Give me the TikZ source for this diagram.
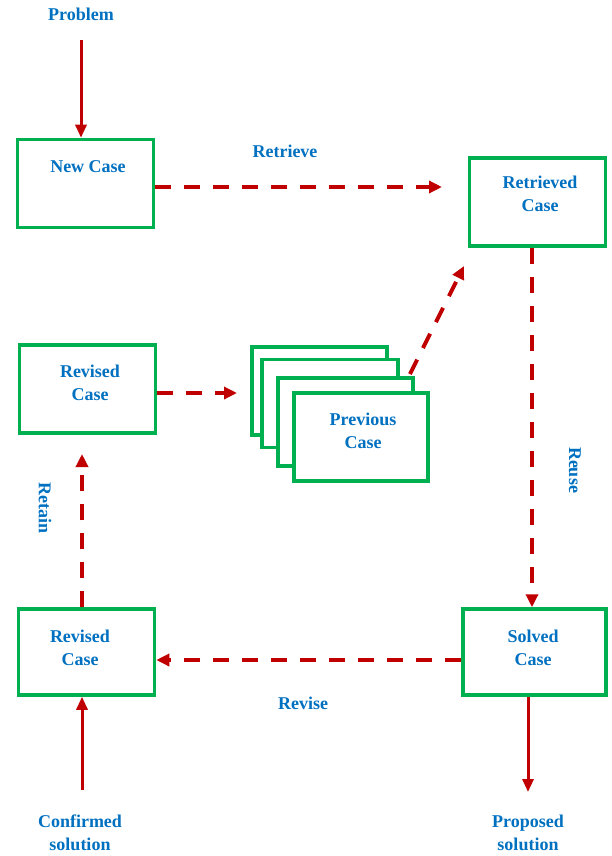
\documentclass[tikz,border=0pt]{standalone}
\usepackage{fontspec}
\setmainfont{Liberation Serif}
\usetikzlibrary{arrows.meta,calc}
\definecolor{boxgreen}{RGB}{0,176,80}
\definecolor{txtblue}{RGB}{0,112,192}
\definecolor{arrred}{RGB}{192,0,0}
\tikzset{
  casebox/.style={draw=boxgreen,line width=3.5pt,fill=white,minimum width=136pt,minimum height=88pt,inner sep=0pt},
  lbl/.style={text=txtblue,font=\fontsize{18}{23}\selectfont\bfseries,align=center,inner sep=0pt},
  solidarr/.style={draw=arrred,line width=3pt,-{Triangle[length=13pt,width=11pt]}},
  dasharr/.style={draw=arrred,line width=4pt,dash pattern=on 16pt off 13pt,-{Triangle[length=13pt,width=12pt]}}
}
\begin{document}
\begin{tikzpicture}[x=1pt,y=-1pt]
\useasboundingbox (0,0) rectangle (611,856);
% boxes
\node[casebox] (newcase) at (85.5,183.5) {};
\node[casebox] (retrieved) at (537.5,202) {};
\node[casebox] (revmid) at (87.5,389) {};
\node[casebox,minimum width=135pt] (prev1) at (319.5,391) {};
\node[casebox,minimum width=136pt] (prev2) at (330,403.5) {};
\node[casebox,minimum width=135pt] (prev3) at (345.5,422) {};
\node[casebox,minimum width=134pt] (prev4) at (361,437) {};
\node[casebox,minimum height=86pt] (revbot) at (86.5,652) {};
\node[casebox,minimum width=143pt,minimum height=86pt] (solved) at (534.5,652) {};
% box texts
\node[lbl] (tnew) at (88,167) {New Case};
\node[lbl] (tret) at (540,194) {Retrieved\\Case};
\node[lbl] (trevm) at (90,383) {Revised\\Case};
\node[lbl] (tprev) at (363,431) {Previous\\Case};
\node[lbl] (trevb) at (80,648) {Revised\\Case};
\node[lbl] (tsolv) at (533,648) {Solved\\Case};
% outer texts
\node[lbl] (problem) at (81,14) {Problem};
\node[lbl] (confirmed) at (80,833) {Confirmed\\solution};
\node[lbl] (proposed) at (528,833) {Proposed\\solution};
\node[lbl] (retrieve) at (285,151) {Retrieve};
\node[lbl] (revise) at (303,703) {Revise};
\node[lbl,rotate=-90] (reuse) at (575,470) {Reuse};
\node[lbl,rotate=-90] (retain) at (45,508) {Retain};
% coordinates
\coordinate (pstart) at (81,40);
\coordinate (rend) at (442,187);
\coordinate (tend) at (82,454);
\coordinate (mend) at (237,393);
\coordinate (dstart) at (410,374);
\coordinate (dend) at (464,266);
\coordinate (cstart) at (82,790);
\coordinate (pend) at (528,792);
\coordinate (rvy) at (0,660);
% connectors
\draw[solidarr] (pstart) -- (pstart |- newcase.north);
\draw[dasharr] (newcase.east |- rend) -- (rend);
\draw[dasharr] (retrieved.south -| 532,0) -- (solved.north -| 532,0);
\draw[dasharr] (solved.west |- rvy) -- (revbot.east |- rvy);
\draw[dasharr] (revbot.north -| tend) -- (tend);
\draw[dasharr] (revmid.east |- mend) -- (mend);
\draw[dasharr] (dstart) -- (dend);
\draw[solidarr] (cstart) -- (cstart |- revbot.south);
\draw[solidarr] (solved.south -| pend) -- (pend);
\end{tikzpicture}
\end{document}
